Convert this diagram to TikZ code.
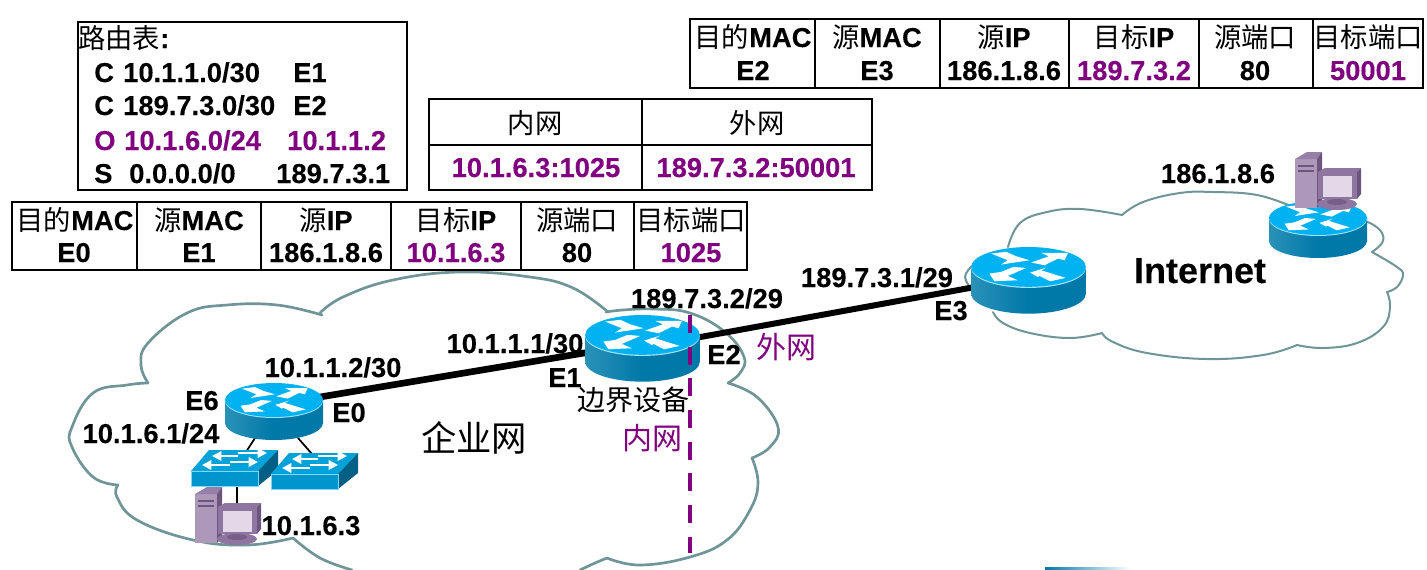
\documentclass[tikz,border=0pt]{standalone}
\usepackage{fontspec}
\setmainfont[BoldFeatures={FakeBold=0.12}]{Liberation Sans}
\newfontfamily\cjk{Noto Sans CJK SC}
\usetikzlibrary{arrows.meta}
\definecolor{purp}{HTML}{800080}
\definecolor{cloudc}{HTML}{6F9599}
\definecolor{rtop}{HTML}{00B2F2}
\definecolor{rbody}{HTML}{0078A8}
\definecolor{rbodyl}{HTML}{2A92B8}
\definecolor{swtop}{HTML}{00A2DA}
\definecolor{swfront}{HTML}{0095CC}
\definecolor{swside}{HTML}{005F85}
\definecolor{pcl}{HTML}{AD98BA}
\definecolor{pcm}{HTML}{8E76A0}
\definecolor{pcd}{HTML}{6E5580}
\definecolor{pcs}{HTML}{E2D8E8}
\newcommand\zh[1]{{\cjk\mdseries #1}}
\newcommand\lb[4][]{\node[lbl,#1] (#2) at (#3) {#4};}
\tikzset{
  lbl/.style={inner sep=0pt,anchor=base,font=\fontsize{20.5}{24}\selectfont\bfseries},
  lft/.style={anchor=base west},
  pur/.style={text=purp},
  cloudline/.style={draw=cloudc,line width=2pt,line cap=round,line join=round},
  cloudthin/.style={draw=cloudc,line width=1.5pt,line cap=round,line join=round},
  box/.style={draw=black,line width=1.3pt},
  thinlink/.style={draw=black,line width=1.3pt},
  router/.pic={
    \shade[left color=rbodyl,right color=rbody,middle color=rbody] (-49,17) -- (-49,40) arc[start angle=180,end angle=0,x radius=49,y radius=17] -- (49,17) -- cycle;
    \fill[cyan!35] (0,18) ellipse[x radius=49,y radius=17];
    \fill[rtop] (0,17) ellipse[x radius=49,y radius=17];
    \begin{scope}[shift={(0,17)}]
    \fill[white] (-32,-11.4)--(-19,-12.9)--(-10.6,-9.1)--(0.9,-5.7)--(-23.4,-2)--(-17.7,-5.7)--cycle;
    \fill[white] (33.7,-12)--(10.9,-12)--(17.4,-9.1)--(2.3,-3.7)--(13.7,-1.4)--(25.1,-7.1)--(30.9,-5.7)--cycle;
    \fill[white] (-29.1,12.3)--(-33.4,5.7)--(-23.4,4.3)--(-12.9,0)--(-2,0.9)--(-17.7,7.7)--(-9.1,11.4)--cycle;
    \fill[white] (1.4,4.9)--(15.1,0.6)--(10.9,2.9)--(31.7,9.4)--(18.6,12.3)--(9.4,7.7)--(8,8.6)--cycle;
    \end{scope}
  },
  switchbox/.pic={
    \fill[swtop] (0,0)--(18,-21)--(87,-21)--(67,0)--cycle;
    \fill[swside] (67,0)--(87,-21)--(87,-1)--(67,15)--cycle;
    \fill[swfront,draw=cyan!50,line width=.5pt] (0,0) rectangle (67,15);
    \foreach \xa/\ya/\xb in {47/-15/21,47/-18/76,39/-6/11,39/-9/67}{
      \draw[white,line width=2.2pt,-{Triangle[length=7pt,width=7pt]}] (\xa,\ya) -- (\xb,\ya);
    }
  },
  computer/.pic={
    \fill[pcl] (0,7)--(22,7)--(22,56)--(0,56)--cycle;
    \fill[pcm!70!pcl] (0,7)--(12,0)--(27,0)--(22,7)--cycle;
    \fill[pcd] (22,7)--(27,0)--(27,50)--(22,56)--cycle;
    \fill[pcd] (3,13) rectangle (19,14.5);
    \fill[pcd] (3,18) rectangle (19,19.5);
    \fill[pcm] (42,52) ellipse[x radius=20,y radius=6];
    \fill[pcd!70!pcm] (42,50) ellipse[x radius=10,y radius=3];
    \fill[pcd] (62,18) -- (66,16) -- (66,42) -- (62,47) -- cycle;
    \fill[pcm] (23,20) -- (30,16) -- (66,16) -- (62,20) -- cycle;
    \fill[pcm] (23,20) rectangle (62,47);
    \fill[pcs] (28,24) rectangle (57,45);
  }
}
\begin{document}
\begin{tikzpicture}[x=0.75pt,y=-0.75pt]
\useasboundingbox (0,0) rectangle (1427,569);
\clip (0,0) rectangle (1427,569);
\fill[white] (0,0) rectangle (1427,569);

% left cloud
\draw[cloudline] plot[smooth,tension=.7] coordinates {(148,383)(141,365)(148,343)(187,313)(227,305)(277,305)(322,315)};
\draw[cloudline] plot[smooth,tension=.7] coordinates {(320,313)(343,297)(393,280)(460,272)(530,277)(573,288)(608,312)};
\draw[cloudline] plot[smooth,tension=.7] coordinates {(606,312)(623,310)(653,309)(690,313)(725,332)(744,357)(740,373)(728,383)};
\draw[cloudline] plot[smooth,tension=.7] coordinates {(728,383)(757,397)(778,427)(770,447)(752,458)};
\draw[cloudline] plot[smooth,tension=.7] coordinates {(752,458)(758,483)(750,510)(727,540)(690,557)(640,565)(607,558)};
\draw[cloudline] plot[smooth,tension=.7] coordinates {(607,558)(595,563)(580,570)};
\draw[cloudline] plot[smooth,tension=.7] coordinates {(293,538)(320,558)(352,570)};
\draw[cloudline] plot[smooth,tension=.7] coordinates {(293,538)(247,545)(193,540)(137,520)(117,497)(118,485)};
\draw[cloudline] plot[smooth,tension=.7] coordinates {(118,485)(93,477)(72,447)(72,427)(93,393)(127,385)(148,383)};

% right cloud
\draw[cloudthin] plot[smooth,tension=.7] coordinates {(972,266)(965,277)(972,290)};
\draw[cloudthin] plot[smooth,tension=.7] coordinates {(1008,247)(1020,223)(1047,212)(1080,209)(1122,215)};
\draw[cloudthin] plot[smooth,tension=.7] coordinates {(1122,215)(1143,202)(1180,193)(1213,192)(1257,195)(1293,207)};
\draw[cloudthin] plot[smooth,tension=.7] coordinates {(1360,220)(1372,224)(1382,233)(1382,243)(1372,252)};
\draw[cloudthin] plot[smooth,tension=.7] coordinates {(1372,252)(1397,267)(1403,275)(1397,287)(1387,292)};
\draw[cloudthin] plot[smooth,tension=.7] coordinates {(1387,292)(1390,307)(1383,327)(1357,343)(1323,348)(1297,345)};
\draw[cloudthin] plot[smooth,tension=.7] coordinates {(1297,345)(1263,355)(1207,359)(1147,353)(1113,342)(1102,333)};
\draw[cloudthin] plot[smooth,tension=.7] coordinates {(1102,333)(1070,338)(1030,333)(1003,323)(993,312)};

\shade[left color=rbody,right color=white] (1045,567) rectangle (1130,569);

% connectors
\coordinate (r1e) at (320,397);
\coordinate (r2w) at (590,352);
\coordinate (r2e) at (695,338);
\coordinate (r3w) at (975,287);
\coordinate (r1a) at (255,438);
\coordinate (r1b) at (298,438);
\coordinate (sw1a) at (246,452);
\coordinate (sw2a) at (312,454);
\coordinate (sw1b) at (237,484);
\coordinate (pc1t) at (237,505);
\coordinate (dashtop) at (690,315);
\coordinate (dashbot) at (690,553);
\draw[line width=5pt] (r1e) -- (r2w);
\draw[line width=4.5pt] (r2e) -- (r3w);
\draw[thinlink] (r1a) -- (sw1a);
\draw[thinlink] (r1b) -- (sw2a);
\draw[thinlink] (sw1b) -- (pc1t);

% devices
\pic (r1) at (274,383) {router};
\pic[scale=1.17] (r2) at (642.5,315) {router};
\pic[scale=1.17] (r3) at (1028.5,247) {router};
\pic (r4) at (1318,201) {router};
\pic (sw1) at (191,471) {switchbox};
\pic (sw2) at (271,474) {switchbox};
\pic (pc1) at (195,487) {computer};
\pic (pc2) at (1295,152) {computer};

\draw[purp,line width=3.4pt,dash pattern=on 13.5pt off 10.25pt] (dashtop) -- (dashbot);

% routing table
\draw[box] (78,22) rectangle (407,190);
\lb[lft]{rt0}{78,48}{\zh{路由表}:}
\lb[lft]{rt1}{94,82}{\makebox[21.75pt][l]{C}\makebox[127.5pt][l]{10.1.1.0/30}E1}
\lb[lft]{rt2}{94,115}{\makebox[21.75pt][l]{C}\makebox[127.5pt][l]{189.7.3.0/30}E2}
\lb[lft,pur]{rt3}{94,150}{\makebox[22.5pt][l]{O}\makebox[122.25pt][l]{10.1.6.0/24}10.1.1.2}
\lb[lft]{rt4}{94,183}{\makebox[26.25pt][l]{S}\makebox[110.25pt][l]{0.0.0.0/0}189.7.3.1}

% left packet table
\draw[box] (12,202) rectangle (747,270);
\foreach \x in {137,261,391,521,634}{\draw[box] (\x,202) -- (\x,270);}
\lb{a1}{75,230}{\zh{目的}MAC}
\lb{a2}{199,230}{\zh{源}MAC}
\lb{a3}{326,230}{\zh{源}IP}
\lb{a4}{456,230}{\zh{目标}IP}
\lb{a5}{577,230}{\zh{源端口}}
\lb{a6}{691,230}{\zh{目标端口}}
\lb{b1}{74,262}{E0}
\lb{b2}{199,262}{E1}
\lb{b3}{326,262}{186.1.8.6}
\lb[pur]{b4}{456,262}{10.1.6.3}
\lb{b5}{577,262}{80}
\lb[pur]{b6}{691,262}{1025}

% NAT table
\draw[box] (429,99) rectangle (872,190);
\draw[box] (429,145) -- (872,145);
\draw[box] (642,99) -- (642,190);
\lb{n1}{535,133}{\zh{内网}}
\lb{n2}{757,133}{\zh{外网}}
\lb[pur]{n3}{536,177}{10.1.6.3:1025}
\lb[pur]{n4}{756,177}{189.7.3.2:50001}

% right packet table
\draw[box] (690,19) rectangle (1423,88);
\foreach \x in {815,940,1069,1199,1313}{\draw[box] (\x,19) -- (\x,88);}
\lb{c1}{753,47}{\zh{目的}MAC}
\lb{c2}{877,47}{\zh{源}MAC}
\lb{c3}{1004,47}{\zh{源}IP}
\lb{c4}{1134,47}{\zh{目标}IP}
\lb{c5}{1255,47}{\zh{源端口}}
\lb{c6}{1368,47}{\zh{目标端口}}
\lb{d1}{753,80}{E2}
\lb{d2}{877,80}{E3}
\lb{d3}{1004,80}{186.1.8.6}
\lb[pur]{d4}{1134,80}{189.7.3.2}
\lb{d5}{1255,80}{80}
\lb[pur]{d6}{1368,80}{50001}

% labels
\lb{t1}{333,377}{10.1.1.2/30}
\lb{t2}{202,410}{E6}
\lb{t3}{151,443}{10.1.6.1/24}
\lb{t4}{349,422}{E0}
\lb{t5}{311,535}{10.1.6.3}
\lb{t6}{515,353}{10.1.1.1/30}
\lb{t7}{565,387}{E1}
\lb{t8}{707,308}{189.7.3.2/29}
\lb{t9}{724,364}{E2}
\lb[pur,font=\fontsize{22.5}{26}\selectfont]{t10}{786,358}{\zh{外网}}
\lb[font=\fontsize{21}{24}\selectfont]{t11}{633,410}{\zh{边界设备}}
\lb[pur,font=\fontsize{22.5}{26}\selectfont]{t12}{652,449}{\zh{内网}}
\lb[font=\fontsize{26.5}{30}\selectfont]{t13}{474,451}{\zh{企业网}}
\lb{t14}{877,287}{189.7.3.1/29}
\lb{t15}{951,320}{E3}
\lb{t16}{1218,183}{186.1.8.6}
\lb[font=\fontsize{27}{30}\selectfont\bfseries]{t17}{1200,283}{Internet}
\end{tikzpicture}
\end{document}
